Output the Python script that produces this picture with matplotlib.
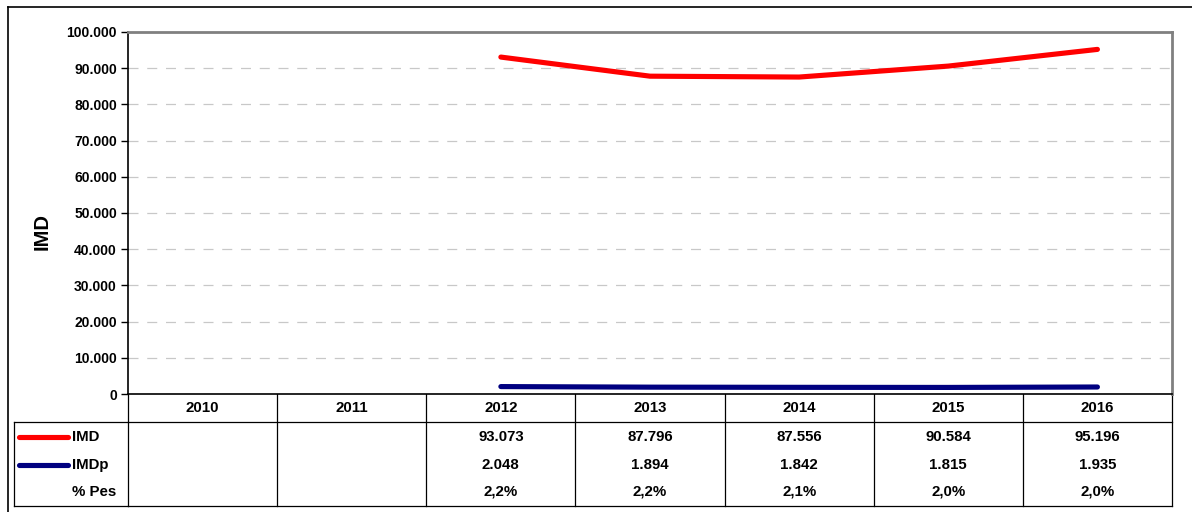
import matplotlib
matplotlib.use("Agg")
import matplotlib.pyplot as plt
import matplotlib.transforms as mtransforms
import numpy as np

plt.rcParams['font.family'] = ['Liberation Sans', 'DejaVu Sans']
plt.rcParams['font.weight'] = 'bold'

# data
years = ['2010', '2011', '2012', '2013', '2014', '2015', '2016']
imd = [np.nan, np.nan, 93073, 87796, 87556, 90584, 95196]
imdp = [np.nan, np.nan, 2048, 1894, 1842, 1815, 1935]
imd_txt = ['', '', '93.073', '87.796', '87.556', '90.584', '95.196']
imdp_txt = ['', '', '2.048', '1.894', '1.842', '1.815', '1.935']
pes_txt = ['', '', '2,2%', '2,2%', '2,1%', '2,0%', '2,0%']
yticks = np.arange(0, 100001, 10000)

W, H = 1192, 512
fig = plt.figure(figsize=(W / 100, H / 100), dpi=100)

# overlay in pixel coordinates for frame / table
ov = fig.add_axes([0, 0, 1, 1])
ov.set_xlim(0, W)
ov.set_ylim(H, 0)
ov.axis('off')

left, right, top, bottom = 128, 1172, 32, 394
ax = fig.add_axes([left / W, (H - bottom) / H, (right - left) / W, (bottom - top) / H])
n = len(years)
x = np.arange(n) + 0.5
ax.set_xlim(0, n)
ax.set_ylim(0, 100000)

ax.plot(x, imd, color='#ff0000', lw=3.7, solid_capstyle='round', solid_joinstyle='round')
ax.plot(x, imdp, color='#000080', lw=3.7, solid_capstyle='round', solid_joinstyle='round')

ax.set_yticks(yticks)
ax.set_yticklabels([f"{v:,}".replace(',', '.') for v in yticks], fontsize=10, fontweight='bold')
ax.tick_params(axis='y', direction='out', length=5, width=1, pad=3)
ax.set_xticks([])
ax.grid(axis='y', color='#c8c8c8', linestyle=(0, (8, 7)), lw=0.9)
for s in ['top', 'right']:
    ax.spines[s].set_color('#808080')
    ax.spines[s].set_linewidth(2)
for s in ['left', 'bottom']:
    ax.spines[s].set_color('black')
    ax.spines[s].set_linewidth(1.2)
ov.text(42, 232, 'IMD', rotation=90, ha='center', va='center', fontsize=14.5, fontweight='bold')

# table: x in data units of ax, y in pixel units
tr = mtransforms.blended_transform_factory(ax.transData, ov.transData)
hdr_bot, tab_bot = 422, 506
lw = 0.9
# column separators
for i in range(n + 1):
    ov.plot([i, i], [bottom, tab_bot], color='black', lw=lw, transform=tr)
ov.plot([0, n], [hdr_bot, hdr_bot], color='black', lw=lw, transform=tr)
ov.plot([0, n], [tab_bot, tab_bot], color='black', lw=lw, transform=tr)
# left legend column
ov.plot([14, left], [hdr_bot, hdr_bot], color='black', lw=lw)
ov.plot([14, left], [tab_bot, tab_bot], color='black', lw=lw)
ov.plot([14, 14], [hdr_bot, tab_bot], color='black', lw=lw)

fs = 10.8
row_y = [437, 465, 492]
for i in range(n):
    ov.text(x[i], 408, years[i], transform=tr, ha='center', va='center', fontsize=fs, fontweight='bold')
    for ry, vals in zip(row_y, [imd_txt, imdp_txt, pes_txt]):
        ov.text(x[i], ry, vals[i], transform=tr, ha='center', va='center', fontsize=fs, fontweight='bold')

# legend keys
ov.plot([18.5, 67.5], [row_y[0], row_y[0]], color='#ff0000', lw=3.7, solid_capstyle='round')
ov.plot([18.5, 67.5], [row_y[1], row_y[1]], color='#000080', lw=3.7, solid_capstyle='round')
for ry, lab in zip(row_y, ['IMD', 'IMDp', '% Pes']):
    ov.text(72, ry, lab, ha='left', va='center', fontsize=fs, fontweight='bold')

# outer frame
ov.plot([8, W], [7, 7], color='black', lw=1.2)
ov.plot([8, 8], [7, H], color='black', lw=1.2)

fig.savefig('out.png', dpi=100)
